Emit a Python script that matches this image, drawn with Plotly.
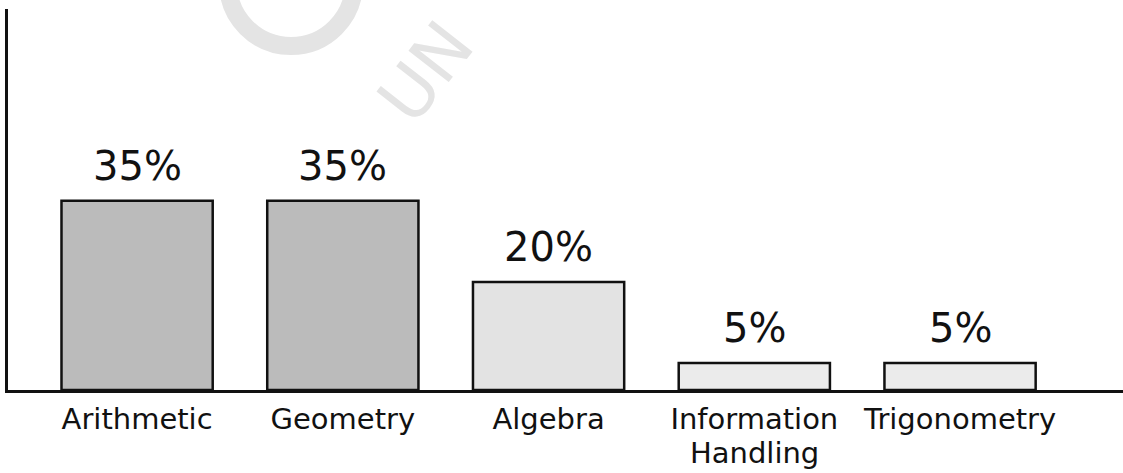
import plotly.graph_objects as go

# ---- data ----
categories = ["Arithmetic", "Geometry", "Algebra", "Information Handling", "Trigonometry"]
shares = [35, 35, 20, 5, 5]
value_labels = ["35%", "35%", "20%", "5%", "5%"]

# ---- styling ----
bar_colors = ["#bbbbbb", "#bbbbbb", "#e3e3e3", "#ebebeb", "#ebebeb"]
FONT = "DejaVu Sans"
W, H = 1123, 473
L, R, T, B = 8, 0, 9, 83

# tick labels: first word on the axis, the rest placed just below
tick_first = [c.split(" ", 1)[0] for c in categories]

fig = go.Figure()
fig.add_trace(go.Bar(
    x=categories,
    y=shares,
    width=0.735,
    marker=dict(color=bar_colors, line=dict(color="#111111", width=2.5)),
    showlegend=False,
    hoverinfo="skip",
))

annotations = []
# value labels above bars
for c, v, lab in zip(categories, shares, value_labels):
    annotations.append(dict(
        x=c, y=v, xref="x", yref="y", text=lab, showarrow=False,
        yanchor="bottom", yshift=10,
        font=dict(family=FONT, size=40, color="#111111"),
    ))
# second line of multi-word category labels
for c in categories:
    parts = c.split(" ", 1)
    if len(parts) > 1:
        annotations.append(dict(
            x=c, y=0, xref="x", yref="y", text=parts[1], showarrow=False,
            yanchor="top", yshift=-44,
            font=dict(family=FONT, size=29, color="#111111"),
        ))

# faint scan watermark (decoration)
def px_x(p):
    return (p - L) / (W - L - R)

def px_y(p):
    return (H - B - p) / (H - T - B)

shapes = [dict(
    type="circle", xref="paper", yref="paper", layer="below",
    x0=px_x(291 - 63), x1=px_x(291 + 63), y0=px_y(-17 + 63), y1=px_y(-17 - 63),
    line=dict(color="#e4e4e4", width=18),
)]
annotations.append(dict(
    x=px_x(426), y=px_y(72), xref="paper", yref="paper", text="UN", showarrow=False,
    textangle=-52, font=dict(family=FONT, size=70, color="#e4e4e4"),
    xanchor="center", yanchor="middle",
))

fig.update_layout(
    width=W, height=H,
    margin=dict(l=L, r=R, t=T, b=B, pad=0),
    paper_bgcolor="white", plot_bgcolor="white",
    font=dict(family=FONT, color="#111111"),
    shapes=shapes,
    annotations=annotations,
    xaxis=dict(
        type="category",
        categoryorder="array", categoryarray=categories,
        tickmode="array", tickvals=categories, ticktext=tick_first,
        range=[-0.6275, 4.792],
        showline=True, linecolor="#111111", linewidth=2.5,
        ticks="", showgrid=False, zeroline=False,
        tickfont=dict(family=FONT, size=29, color="#111111"),
        ticklabelstandoff=1,
    ),
    yaxis=dict(
        range=[0, 70.5],
        showline=True, linecolor="#111111", linewidth=2.5,
        showticklabels=False, ticks="", showgrid=False, zeroline=False,
    ),
)

fig.write_html("out.html")
